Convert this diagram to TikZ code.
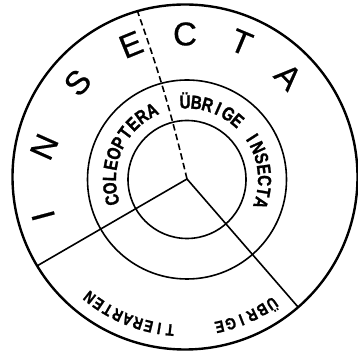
\documentclass[tikz,border=0pt]{standalone}
\usepackage{fontspec}
\setmainfont{Liberation Sans}
\newfontfamily\bigsans{Liberation Sans}[FakeBold=0.6]
\newfontfamily\condbold{Liberation Sans Bold}[FakeStretch=0.8, FakeBold=1.2]
\usetikzlibrary{calc}
\tikzset{
  ring/.style={circle, draw, inner sep=0pt, outer sep=0pt},
  divider/.style={line width=1.6pt},
  dashdivider/.style={line width=1.6pt, dash pattern=on 6.5pt off 3.5pt},
  bigletter/.style={inner sep=0pt, font=\bigsans\fontsize{33}{33}\selectfont},
  midletter/.style={inner sep=0pt, anchor=base, font=\condbold\fontsize{19}{19}\selectfont},
  lowletter/.style={inner sep=0pt, anchor=base, font=\condbold\fontsize{16.5}{16.5}\selectfont},
}
% #1 centre, #2 start angle, #3 step, #4 baseline radius, #5 style, #6 letters
\newcommand\ringtext[6]{%
  \foreach \ch [count=\i from 0] in {#6} {%
    \pgfmathsetmacro\ang{#2-\i*#3}%
    \node[#5, rotate=\ang-90] at ([shift={(\ang:#4)}]#1) {\ch};
  }%
}
\begin{document}
\begin{tikzpicture}[x=1pt,y=1pt]
\useasboundingbox (0,0) rectangle (358,355);
\coordinate (O) at (185,178);
\coordinate (M) at (187,175.5);
\coordinate (P) at (187,176);
\node[ring, line width=2.4pt, minimum size=345pt] (outer) at (O) {};
\node[ring, line width=1.6pt, minimum size=199pt] (mid) at (M) {};
\node[ring, line width=1.6pt, minimum size=118pt] (inner) at (M) {};
\draw[divider] (P) -- (outer.211.6);
\draw[divider] (P) -- (outer.-49.3);
\draw[dashdivider] (P) to[bend right=3] (outer.106.1);
% INSECTA: letter / position angle / radius / rotation
\foreach \ch/\a/\r/\rot in {I/195.3/147/105, N/167.9/144/66, S/138.7/143/48.7, E/112.2/143/22.2, C/90/143/0, T/67.3/146/-22.7, A/44.2/144/-45.8} {
  \node[bigletter, rotate=\rot] at ([shift={(\a:\r)}]O) {\ch};
}
\ringtext{M}{195.2}{8.69}{71}{midletter}{C,O,L,E,O,P,T,E,R,A}
\ringtext{M}{91.4}{8.39}{71}{midletter}{Ü,B,R,I,G,E,{},I,N,S,E,C,T,A}
\ringtext{O}{264.4}{4.1}{148}{lowletter}{T,I,E,R,A,R,T,E,N}
\ringtext{O}{-55.5}{4.3}{148}{lowletter}{Ü,B,R,I,G,E}
\end{tikzpicture}
\end{document}
